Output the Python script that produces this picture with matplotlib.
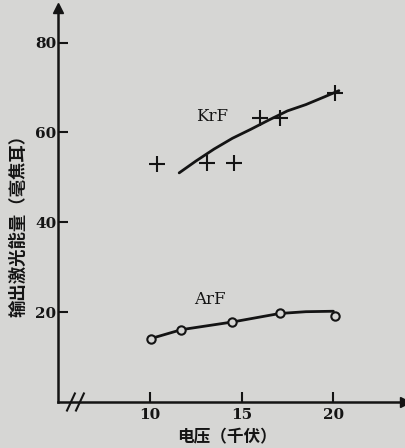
import matplotlib
matplotlib.use("Agg")
import matplotlib.pyplot as plt

# ---- data ----
krf_x = [10.4, 13.1, 14.6, 16.0, 17.1, 20.1]
krf_y = [53.0, 53.2, 53.2, 63.2, 63.2, 68.8]
krf_fit_x = [11.6, 12.5, 13.5, 14.5, 15.5, 16.5, 17.5, 18.5, 19.5, 20.3]
krf_fit_y = [51.0, 53.6, 56.3, 58.7, 60.7, 62.8, 64.8, 66.2, 67.9, 69.3]

arf_x = [10.04, 11.72, 14.49, 17.07, 20.11]
arf_y = [14.1, 16.1, 17.8, 19.7, 19.1]
arf_fit_x = [10.04, 11.72, 14.49, 17.07, 18.5, 20.0]
arf_fit_y = [14.1, 16.1, 17.8, 19.7, 20.1, 20.2]

x_ticks = [10, 15, 20]
y_ticks = [20, 40, 60, 80]

bg = "#d6d6d4"
ink = "#141414"

plt.rcParams['font.family'] = ['Noto Sans CJK SC', 'DejaVu Sans']

fig = plt.figure(figsize=(4.05, 4.48), dpi=100, facecolor=bg)
ax = fig.add_axes([58/405, 46/448, 347/405, 394/448])
ax.set_facecolor(bg)
ax.set_xlim(5, 23.9)
ax.set_ylim(0, 87.7)

for s in ["top", "right"]:
    ax.spines[s].set_visible(False)
for s in ["left", "bottom"]:
    ax.spines[s].set_color(ink)
    ax.spines[s].set_linewidth(1.8)

ax.set_xticks(x_ticks)
ax.set_yticks(y_ticks)
serif = dict(family="DejaVu Serif", weight="bold", size=11)
ax.set_xticklabels([str(t) for t in x_ticks], fontdict=serif)
ax.set_yticklabels([str(t) for t in y_ticks], fontdict=serif)
ax.tick_params(direction="in", length=7, width=1.5, color=ink, labelcolor=ink)
ax.tick_params(axis="y", pad=1)
ax.tick_params(axis="x", pad=4)

# axis arrows
ax.plot([5], [87.7], marker="^", color=ink, markersize=7, clip_on=False)
ax.plot([23.9], [0], marker=">", color=ink, markersize=7, clip_on=False)

# axis break marks
for x0 in (5.49, 5.98):
    ax.plot([x0, x0 + 0.43], [-1.9, 1.9], color=ink, lw=1.5, clip_on=False)

# KrF
ax.plot(krf_fit_x, krf_fit_y, color=ink, lw=2.0, solid_capstyle="round")
ax.plot(krf_x, krf_y, linestyle="none", marker="+", markersize=11,
        markeredgewidth=1.5, color=ink)
ax.text(13.4, 63.6, "KrF", fontsize=12, family="DejaVu Serif", color=ink,
        ha="center", va="center")

# ArF
ax.plot(arf_fit_x, arf_fit_y, color=ink, lw=2.0, solid_capstyle="round")
ax.plot(arf_x, arf_y, linestyle="none", marker="o", markersize=6,
        markerfacecolor=bg, markeredgewidth=1.5, markeredgecolor=ink)
ax.text(13.3, 22.9, "ArF", fontsize=12, family="DejaVu Serif", color=ink,
        ha="center", va="center")

fig.text(227/405, 1 - 437/448, "电压（千伏）", fontsize=12, weight="bold",
         color=ink, ha="center", va="center")
fig.text(18/405, 1 - 221/448, "输出激光能量（毫焦耳）", fontsize=12.5,
         weight="bold", color=ink, ha="center", va="center", rotation=90)

fig.savefig("out.png", dpi=100, facecolor=bg)
